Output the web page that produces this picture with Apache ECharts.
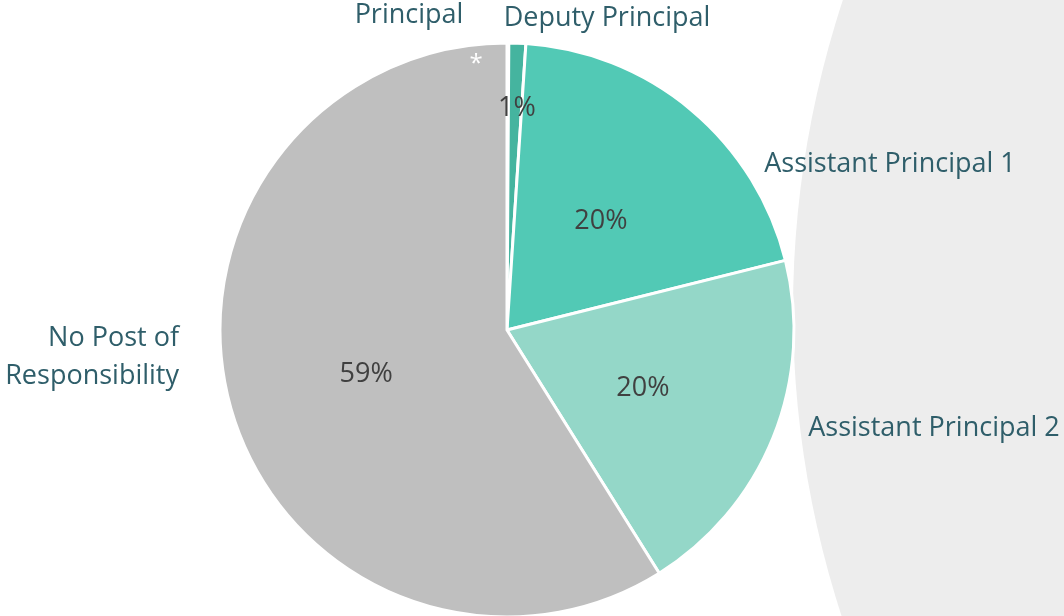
<!DOCTYPE html>
<html>
<head>
<meta charset="utf-8">
<script src="https://cdn.jsdelivr.net/npm/echarts@6/dist/echarts.min.js"></script>
<style>
html,body{margin:0;padding:0;background:#fff;}
#chart{width:1064px;height:616px;}
</style>
</head>
<body>
<div id="chart"></div>
<script>
// ---- data ----
const categories = ['Principal', 'Deputy Principal', 'Assistant Principal 1', 'Assistant Principal 2', 'No Post of\nResponsibility'];
const shares = [0.1, 0.95, 20.05, 20.0, 58.9];

// ---- styles / layout (not data) ----
const sliceColors = ['#2f8f80', '#45b49f', '#52c9b5', '#94d7c8', '#bfbfbf'];
const nameLabelPos = [
  {x: 409, y: 15, align: 'center'},
  {x: 607, y: 18, align: 'center'},
  {x: 890, y: 164, align: 'center'},
  {x: 934, y: 428, align: 'center'},
  {x: 179, y: 357, align: 'right'}
];
const innerLabelPos = {0: {x: 476, y: 64}, 1: {x: 517, y: 108}};

const chart = echarts.init(document.getElementById('chart'));
const pieData = categories.map((c, i) => ({name: c, value: shares[i], itemStyle: {color: sliceColors[i]}}));
const FONT = '"Open Sans", sans-serif';

chart.setOption({
  animation: false,
  graphic: [{
    type: 'circle', z: -10, silent: true,
    shape: {cx: 1781, cy: 310, r: 988},
    style: {fill: '#ededed'}
  }],
  series: [
    {
      type: 'pie',
      center: [507, 330],
      radius: [0, 287],
      startAngle: 90,
      clockwise: true,
      avoidLabelOverlap: false,
      itemStyle: {borderColor: '#ffffff', borderWidth: 3},
      label: {
        show: true,
        position: 'inside',
        fontFamily: FONT,
        fontSize: 27,
        color: '#404040',
        formatter: p => p.percent < 0.5 ? '*' : Math.round(p.percent) + '%'
      },
      labelLine: {show: false},
      labelLayout: p => {
        const o = innerLabelPos[p.dataIndex];
        return o ? {x: o.x, y: o.y, align: 'center', verticalAlign: 'middle'} : {dy: 4};
      },
      data: pieData.map((d, i) => i === 0 ? Object.assign({}, d, {label: {color: '#ffffff', fontSize: 24}}) : d)
    },
    {
      type: 'pie',
      center: [507, 330],
      radius: [0, 287],
      startAngle: 90,
      clockwise: true,
      silent: true,
      avoidLabelOverlap: false,
      itemStyle: {color: 'rgba(0,0,0,0)', borderWidth: 0},
      label: {
        show: true,
        position: 'outside',
        fontFamily: FONT,
        fontSize: 27,
        lineHeight: 38,
        color: '#2f5e6a',
        formatter: p => p.name
      },
      labelLine: {show: false},
      labelLayout: p => {
        const o = nameLabelPos[p.dataIndex];
        return {x: o.x, y: o.y, align: o.align, verticalAlign: 'middle'};
      },
      data: categories.map((c, i) => ({name: c, value: shares[i], label: {align: nameLabelPos[i].align}}))
    }
  ]
});
</script>
</body>
</html>
